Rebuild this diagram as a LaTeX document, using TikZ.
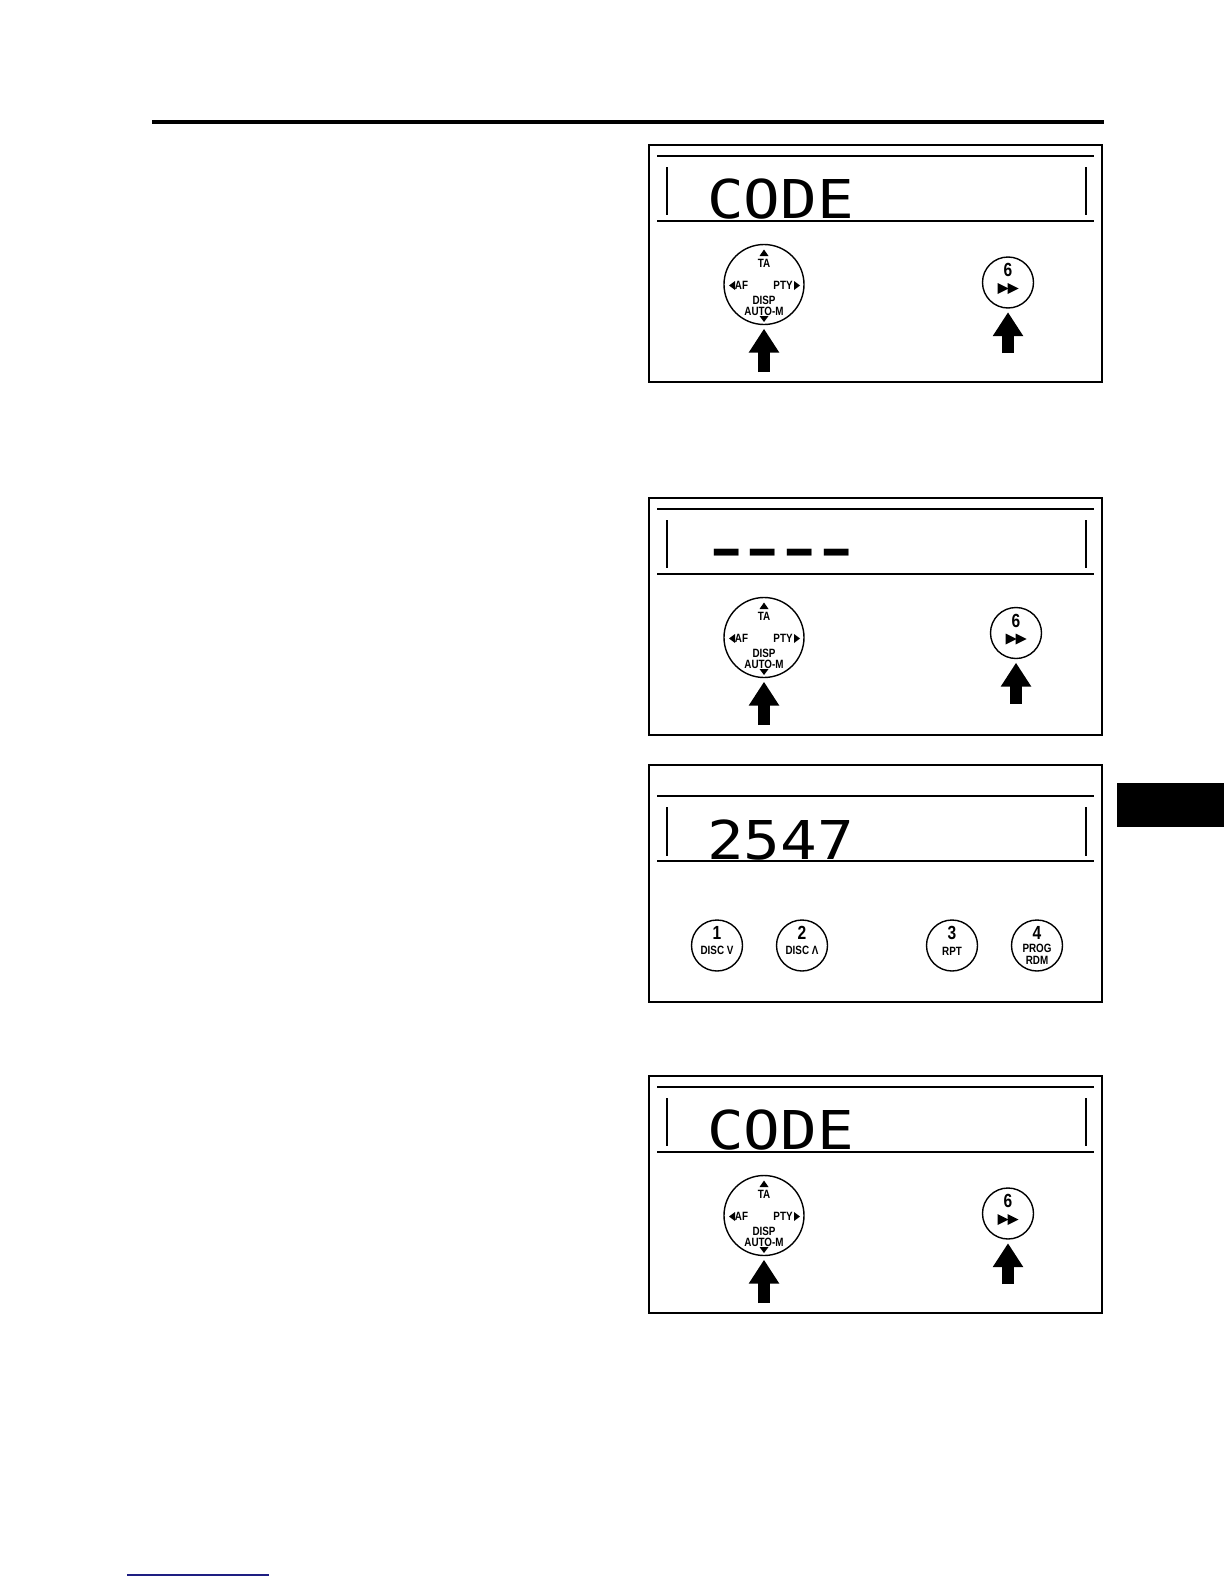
\documentclass[tikz,border=0pt]{standalone}
\usepackage{graphicx}
\usepackage{fontspec}
\usetikzlibrary{arrows.meta}
\newfontfamily\lcdfont{DejaVu Sans Mono}
\newfontfamily\keyfont{Liberation Sans}
\definecolor{linknavy}{RGB}{30,30,130}
\newcommand{\cnd}[1]{\scalebox{0.82}[1]{#1}}

\tikzset{
  panel/.style={line width=1.5pt},
  rim/.style={line width=1.3pt},
  knob/.style={draw,circle,line width=1.4pt,minimum size=80pt,inner sep=0pt},
  key/.style={draw,circle,line width=1.4pt,minimum size=51pt,inner sep=0pt},
  lcd/.style={inner sep=0pt,anchor=base west,font=\lcdfont\fontsize{53.5}{60}\selectfont},
  seg/.style={inner sep=0pt,anchor=base,font=\lcdfont\bfseries\fontsize{53.5}{60}\selectfont},
  lbl/.style={inner sep=0pt,font=\keyfont\bfseries\fontsize{12}{13}\selectfont},
  num/.style={inner sep=0pt,font=\keyfont\bfseries\fontsize{19}{20}\selectfont},
  press/.style={line width=12.5pt,-{Triangle[width=29pt,length=24pt]},shorten >=3.5pt}
}

\begin{document}
\begin{tikzpicture}[x=1pt,y=-1pt]
\useasboundingbox (0,0) rectangle (1224,1584);
% page rules
\draw[line width=3.5pt] (152,122) -- (1104,122);
\fill (1117,783) rectangle (1224,827);
\draw[linknavy,line width=2pt] (127,1575) -- (269,1575);

% panels with the knob and key 6
\foreach \p/\t/\bx/\by in {1/145/1008/282.5,2/498/1016/633,4/1076/1008/1213.5}{
\pgfmathsetmacro\ky{\t+139.5}
\draw[panel] (649,\t) rectangle (1102,\t+237);
\draw[rim] (657,\t+11) -- (1094,\t+11) (657,\t+76) -- (1094,\t+76);
\draw[rim] (667,\t+22) -- (667,\t+70) (1086,\t+22) -- (1086,\t+70);
\node[knob] (knob\p) at (764,\ky) {};
\node[lbl] (ta\p) at (764,\ky-21) {\cnd{TA}};
\node[lbl] (af\p) at (741.5,\ky+1) {\cnd{AF}};
\node[lbl] (pty\p) at (783,\ky+1) {\cnd{PTY}};
\node[lbl] (disp\p) at (764,\ky+15.5) {\cnd{DISP}};
\node[lbl] (auto\p) at (764,\ky+27) {\cnd{AUTO-M}};
\fill (759.5,\ky-28.5) -- (768.5,\ky-28.5) -- (764,\ky-35) -- cycle;
\fill (759.5,\ky+31.5) -- (768.5,\ky+31.5) -- (764,\ky+37.5) -- cycle;
\fill (735,\ky-3.5) -- (735,\ky+5.5) -- (729,\ky+1) -- cycle;
\fill (794,\ky-3.5) -- (794,\ky+5.5) -- (800,\ky+1) -- cycle;
\node[key] (six\p) at (\bx,\by) {};
\node[num] (sixnum\p) at (\bx,\by-12.5) {\cnd{6}};
\fill (\bx-10.5,\by+0.5) -- (\bx-10.5,\by+11.5) -- (\bx+0.5,\by+6) -- cycle;
\fill (\bx-0.5,\by+0.5) -- (\bx-0.5,\by+11.5) -- (\bx+10.5,\by+6) -- cycle;
\coordinate (knobtail\p) at (764,\t+227);
\coordinate (sixtail\p) at (\bx,\by+70.5);
\draw[press] (knobtail\p) -- (knob\p.south);
\draw[press] (sixtail\p) -- (six\p.south);
}

% display texts
\node[lcd] (code1) at (707,218) {\scalebox{1.14}[1]{CODE}};
\node[lcd] (code4) at (707,1149) {\scalebox{1.14}[1]{CODE}};
\foreach \i in {0,...,3}
\node[seg] (dash\i) at (726.5+36.6*\i,566) {\scalebox{1.5}[0.9]{-}};

% panel with the preset keys
\draw[panel] (649,765) rectangle (1102,1002);
\draw[rim] (657,796) -- (1094,796) (657,861) -- (1094,861);
\draw[rim] (667,807) -- (667,856) (1086,807) -- (1086,856);
\node[lcd] (digits) at (707,859) {\scalebox{1.14}[1]{2547}};
\foreach \n/\x in {1/717,2/802,3/952,4/1037}{
\node[key] (key\n) at (\x,945.5) {};
\node[num] (keynum\n) at (\x,933) {\cnd{\n}};
}
\node[lbl] (disc1) at (717,950.5) {\cnd{DISC V}};
\node[lbl] (disc2) at (802,950.5) {\cnd{DISC Λ}};
\node[lbl] (rpt) at (952,951) {\cnd{RPT}};
\node[lbl] (prog) at (1037,948.5) {\cnd{PROG}};
\node[lbl] (rdm) at (1037,960) {\cnd{RDM}};
\end{tikzpicture}
\end{document}
